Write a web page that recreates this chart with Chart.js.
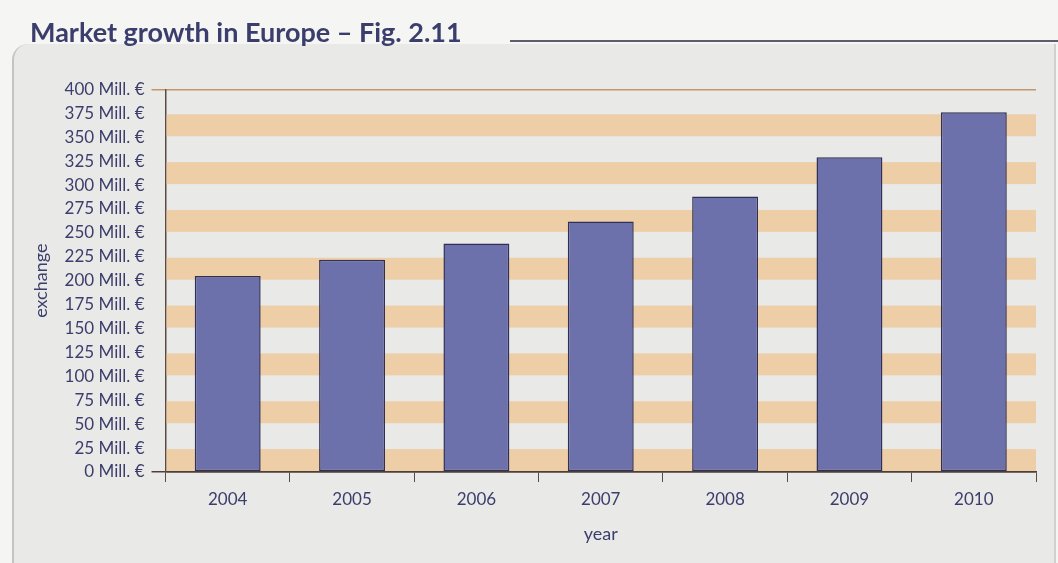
<!DOCTYPE html>
<html>
<head>
<meta charset="utf-8">
<script src="https://cdn.jsdelivr.net/npm/chart.js@4"></script>
<style>
  body { margin: 0; background: #f5f5f3; }
  #wrap { position: relative; width: 1058px; height: 563px; overflow: hidden; }
  #panel {
    position: absolute; left: 12px; top: 44px; width: 1040px; height: 520px;
    background: #e9e9e7; border-left: 2px solid #c4c4c2; border-right: 2px solid #d0d0ce;
    border-top-left-radius: 16px;
  }
  #topline { position: absolute; left: 510px; top: 40px; width: 548px; height: 2px; background: #5c5e70; }
  canvas { position: absolute; left: 0; top: 0; }
</style>
</head>
<body>
<div id="wrap">
  <div id="panel"></div>
  <div id="topline"></div>
  <canvas id="myChart" width="1058" height="563"></canvas>
</div>
<script>
const years = ['2004', '2005', '2006', '2007', '2008', '2009', '2010'];
const exchange = [205, 222, 239, 262, 288, 329, 376];
const yMax = 400;
const yStep = 25;

const navy = '#3b3e6c';

// orange stripes behind the bars, every other 25 step
const stripes = {
    id: 'stripes',
    beforeDatasetsDraw(chart) {
        const ctx = chart.ctx;
        const area = chart.chartArea;
        const y = chart.scales.y;
        ctx.save();
        ctx.fillStyle = 'rgba(238, 196, 146, 0.75)';
        for (let v = 0; v < yMax; v += 2 * yStep) {
            const top = y.getPixelForValue(v + yStep);
            const bottom = y.getPixelForValue(v);
            ctx.fillRect(area.left + 1, top + 1, area.right - area.left - 1, bottom - top - 2);
        }
        ctx.restore();
    }
};

const ctx = document.getElementById('myChart').getContext('2d');
new Chart(ctx, {
    type: 'bar',
    data: {
        labels: years,
        datasets: [{
            data: exchange,
            backgroundColor: '#6c70ab',
            borderColor: '#2f3058',
            borderWidth: 1.5,
            borderSkipped: false,
            barPercentage: 0.53,
            categoryPercentage: 1
        }]
    },
    options: {
        responsive: false,
        animation: false,
        layout: { padding: { left: 30, right: 22, top: 17, bottom: 18 } },
        plugins: {
            legend: { display: false },
            tooltip: { enabled: false },
            title: {
                display: true,
                text: 'Market growth in Europe – Fig. 2.11',
                align: 'start',
                color: navy,
                font: { family: 'Lato', size: 27, weight: 'bold' },
                padding: { top: 0, bottom: 40 }
            }
        },
        scales: {
            x: {
                grid: {
                    offset: true,
                    drawOnChartArea: false,
                    drawTicks: true,
                    tickLength: 10,
                    color: c => c.index === years.length ? 'transparent' : '#5a4c44'
                },
                border: { display: true, color: '#4e4038', width: 1.5 },
                ticks: {
                    color: navy,
                    font: { family: 'Lato', size: 17 },
                    padding: 7
                },
                title: {
                    display: true,
                    text: 'year',
                    color: navy,
                    font: { family: 'Lato', size: 18 },
                    padding: { top: 7, bottom: 0 }
                }
            },
            y: {
                min: 0,
                max: yMax,
                ticks: {
                    stepSize: yStep,
                    color: navy,
                    font: { family: 'Lato', size: 17 },
                    padding: 7,
                    callback: v => v + ' Mill. €'
                },
                grid: {
                    drawTicks: true,
                    tickLength: 14,
                    lineWidth: 1.5,
                    color: c => c.tick.value === 0 ? '#4e4038' : (c.tick.value === yMax ? '#c8946a' : 'transparent')
                },
                border: { display: true, color: '#5a4c44', width: 1.5 },
                title: {
                    display: true,
                    text: 'exchange',
                    color: navy,
                    font: { family: 'Lato', size: 18 },
                    padding: { top: 0, bottom: 6 }
                }
            }
        }
    },
    plugins: [stripes]
});
</script>
</body>
</html>
